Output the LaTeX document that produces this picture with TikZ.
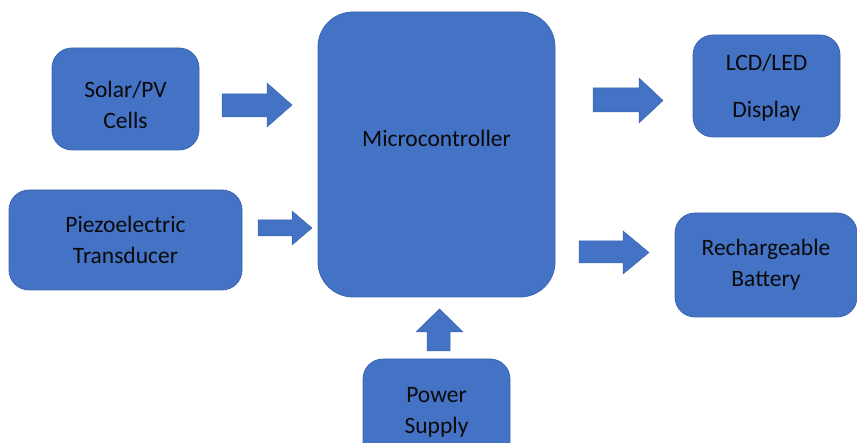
\documentclass[tikz,border=0pt]{standalone}
\usepackage{fontspec}
\setmainfont{Carlito}
\definecolor{boxblue}{HTML}{4472C4}
\definecolor{boxedge}{HTML}{3B65B0}
\definecolor{txt}{HTML}{0A0A0A}
\begin{document}
\begin{tikzpicture}[x=1pt,y=-1pt,
  lbl/.style={font=\fontsize{23.5}{31}\selectfont,text=txt,align=center},
  blk/.style={draw=boxedge,line width=0.8pt,fill=boxblue,rounded corners=20pt,
    text=txt,align=center,inner sep=0pt,font=\fontsize{23.5}{31}\selectfont},
  barrow/.style={fill=boxblue,draw=boxedge,line width=0.5pt}]
\useasboundingbox (0,0) rectangle (857,443);
\clip (0,0) rectangle (857,443);
\node[blk,minimum width=147pt,minimum height=102pt,text depth=0pt] (solar) at (125.5,99) {};
\node[lbl] (solartxt) at (125.5,104.5) {Solar/PV\\Cells};
\node[blk,minimum width=233pt,minimum height=100pt] (piezo) at (125.5,240) {Piezoelectric\\Transducer};
\node[blk,rounded corners=35pt,minimum width=237pt,minimum height=285pt,
  label={[lbl,yshift=16.5pt]center:Microcontroller}] (micro) at (436.5,154.5) {};
\node[blk,minimum width=147pt,minimum height=102pt,text depth=0pt] (lcd) at (766.5,86) {};
\node[lbl] (lcdtxt) at (766.5,87.5) {LCD/LED\\[16pt]Display};
\node[blk,minimum width=182pt,minimum height=104pt] (batt) at (766,265) {Rechargeable\\Battery};
\node[blk,minimum width=147pt,minimum height=104pt,text depth=0pt] (power) at (436.5,411) {};
\node[lbl] (powertxt) at (436.5,412.5) {Power\\Supply};
% block arrows
\fill[barrow] (222,94) -- (267,94) -- (267,83) -- (292,105) -- (267,127) -- (267,117) -- (222,117) -- cycle;
\fill[barrow] (258,220) -- (292,220) -- (292,211) -- (312,228) -- (292,245) -- (292,236) -- (258,236) -- cycle;
\fill[barrow] (593,88) -- (639,88) -- (639,78) -- (663,100.5) -- (639,123) -- (639,112) -- (593,112) -- cycle;
\fill[barrow] (579,241) -- (623,241) -- (623,231) -- (649,252.5) -- (623,274) -- (623,263) -- (579,263) -- cycle;
\fill[barrow] (427,351) -- (427,332) -- (416,332) -- (439.5,309) -- (463,332) -- (450,332) -- (450,351) -- cycle;
\end{tikzpicture}
\end{document}
